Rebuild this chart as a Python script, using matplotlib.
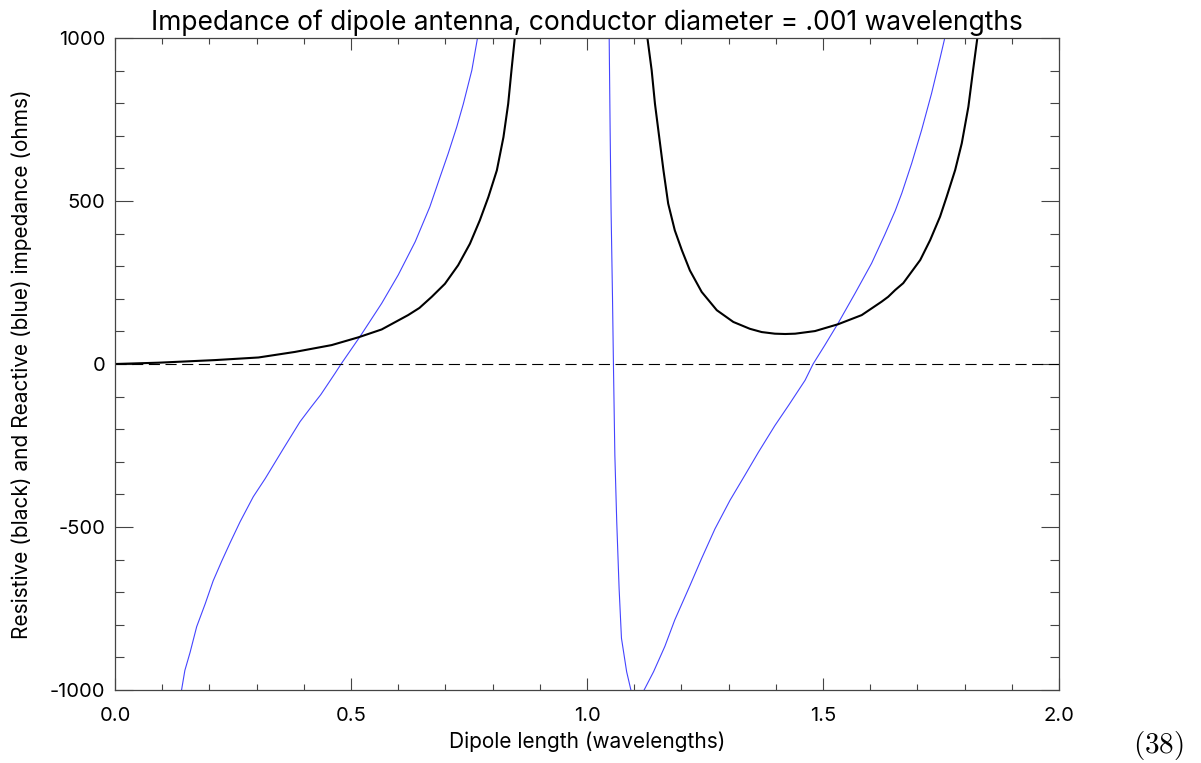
import matplotlib
matplotlib.use('Agg')
import matplotlib.pyplot as plt
from matplotlib.ticker import MultipleLocator

plt.rcParams['font.family'] = ['Inter', 'DejaVu Sans']
plt.rcParams['mathtext.fontset'] = 'cm'

# values (dipole length in wavelengths, ohms)
# resistive part, black curve
len_r1 = [0.000, 0.092, 0.212, 0.304, 0.381, 0.459, 0.516, 0.565, 0.621, 0.645,
          0.671, 0.699, 0.727, 0.752, 0.773, 0.791, 0.809, 0.823, 0.833, 0.840,
          0.847]
res_r1 = [0, 4, 12, 20, 37, 58, 82, 106, 150, 172,
          206, 246, 303, 369, 441, 512, 594, 696, 798, 901,
          1000]

len_r2 = [1.128, 1.137, 1.144, 1.153, 1.162, 1.172, 1.186, 1.201, 1.218, 1.243,
          1.275, 1.310, 1.345, 1.370, 1.398, 1.420, 1.441, 1.483, 1.532, 1.582,
          1.624, 1.638, 1.653, 1.670, 1.706, 1.727, 1.748, 1.762, 1.780, 1.794,
          1.808, 1.818, 1.827]
res_r2 = [1000, 901, 798, 696, 594, 492, 410, 349, 287, 221,
          165, 129, 108, 98, 93, 92, 93, 101, 122, 150,
          191, 206, 227, 248, 319, 380, 452, 513, 595, 677,
          789, 902, 1000]

# reactive part, blue curve (three branches)
len_x1 = [0.141, 0.148, 0.159, 0.173, 0.191, 0.208, 0.226, 0.244, 0.265, 0.293,
          0.318, 0.357, 0.392, 0.415, 0.436, 0.466, 0.479, 0.519, 0.565, 0.600,
          0.636, 0.667, 0.689, 0.706, 0.724, 0.738, 0.756, 0.768]
reac_x1 = [-1000, -940, -885, -806, -736, -665, -605, -548, -484, -407,
           -352, -259, -177, -133, -94, -29, 0, 84, 186, 273,
           375, 482, 575, 646, 727, 798, 901, 1000]

len_x2 = [1.047, 1.049, 1.051, 1.054, 1.056, 1.059, 1.063, 1.068, 1.073, 1.084, 1.093]
reac_x2 = [1000, 718, 472, 206, 0, -279, -484, -688, -841, -944, -1000]

len_x3 = [1.121, 1.141, 1.165, 1.186, 1.218, 1.243, 1.271, 1.303, 1.335, 1.363,
          1.398, 1.427, 1.462, 1.479, 1.504, 1.532, 1.568, 1.603, 1.631, 1.653,
          1.667, 1.688, 1.709, 1.730, 1.748, 1.758]
reac_x3 = [-1000, -944, -866, -785, -680, -596, -506, -418, -340, -271,
           -189, -127, -50, 0, 58, 125, 217, 309, 397, 470,
           524, 616, 718, 830, 938, 1000]

W, H = 1201, 763
fig = plt.figure(figsize=(W / 100, H / 100), dpi=100)
ax = fig.add_axes([115 / W, 1 - 690 / H, 944 / W, 652 / H])

blue = '#4444ff'
ax.plot(len_x1, reac_x1, color=blue, lw=0.8)
ax.plot(len_x2, reac_x2, color=blue, lw=0.8)
ax.plot(len_x3, reac_x3, color=blue, lw=0.8)
ax.plot(len_r1, res_r1, color='black', lw=1.5)
ax.plot(len_r2, res_r2, color='black', lw=1.5)
ax.axhline(0, color='black', lw=0.8, ls=(0, (10, 5)))

ax.set_xlim(0, 2)
ax.set_ylim(-1000, 1000)
ax.xaxis.set_major_locator(MultipleLocator(0.5))
ax.xaxis.set_minor_locator(MultipleLocator(0.1))
ax.yaxis.set_major_locator(MultipleLocator(500))
ax.yaxis.set_minor_locator(MultipleLocator(100))
ax.xaxis.set_major_formatter(lambda v, p: f'{v:.1f}')
ax.yaxis.set_major_formatter(lambda v, p: f'{v:.0f}')

for s in ax.spines.values():
    s.set_color('#444444')
    s.set_linewidth(0.9)
ax.tick_params(axis='both', which='both', direction='in', top=True, right=True,
               color='#444444', width=0.8, labelsize=14.5)
ax.tick_params(axis='x', which='major', length=8.6, pad=12)
ax.tick_params(axis='x', which='minor', length=4)
ax.tick_params(axis='y', which='major', length=13.3, pad=7)
ax.tick_params(axis='y', which='minor', length=6.8)

ax.set_title('Impedance of dipole antenna, conductor diameter = .001 wavelengths',
             fontsize=19, pad=6)
ax.set_xlabel('Dipole length (wavelengths)', fontsize=15)
ax.set_ylabel('Resistive (black) and Reactive (blue) impedance (ohms)', fontsize=15)
ax.xaxis.set_label_coords(0.5, -0.063)
ax.yaxis.set_label_coords(-0.088, 0.5)

fig.text(1158 / W, 1 - 745 / H, r'$(38)$', fontsize=21, ha='center', va='center')

fig.savefig('out.png', dpi=100)
